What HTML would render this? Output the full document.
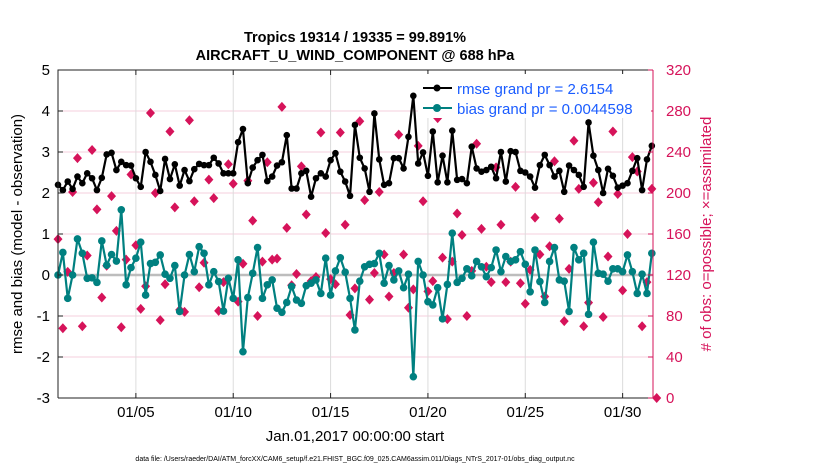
<!DOCTYPE html>
<html><head><meta charset="utf-8"><style>
body{margin:0;background:#fff;font-family:"Liberation Sans",sans-serif}
svg text{font-family:"Liberation Sans",sans-serif}
</style></head><body>
<svg id="chart" width="830" height="470" viewBox="0 0 830 470">
<rect width="830" height="470" fill="#fff"/>
<text x="355" y="42" font-size="14.5" font-weight="bold" text-anchor="middle">Tropics 19314 / 19335 = 99.891%</text>
<text x="355" y="60" font-size="14.5" font-weight="bold" text-anchor="middle">AIRCRAFT_U_WIND_COMPONENT @ 688 hPa</text>
<g id="grid"></g>
<g id="marks"></g>
<g id="axes"></g>
<text transform="translate(22,234) rotate(-90)" font-size="15" text-anchor="middle">rmse and bias (model - observation)</text>
<text transform="translate(711,234) rotate(-90)" font-size="15" text-anchor="middle" fill="#d6135a"># of obs: o=possible; ×=assimilated</text>
<text x="355" y="441" font-size="15" text-anchor="middle">Jan.01,2017 00:00:00 start</text>
<text x="355" y="461" font-size="7" text-anchor="middle">data file: /Users/raeder/DAI/ATM_forcXX/CAM6_setup/f.e21.FHIST_BGC.f09_025.CAM6assim.011/Diags_NTrS_2017-01/obs_diag_output.nc</text>
<g>
<rect x="418" y="74" width="233" height="44" fill="#fff"/>
<line x1="423" y1="88" x2="452" y2="88" stroke="#000" stroke-width="2"/>
<circle cx="437" cy="88" r="3.5" fill="#000"/>
<text x="457" y="94" font-size="15" fill="#1a5cff">rmse grand pr = 2.6154</text>
<line x1="423" y1="108" x2="452" y2="108" stroke="#008080" stroke-width="2"/>
<circle cx="437" cy="108" r="4" fill="#008080"/>
<text x="457" y="114" font-size="15" fill="#1a5cff">bias grand pr = 0.0044598</text>
</g>
</svg>
<script>
const rmse=[2.2,2.07,2.28,2.1,2.4,2.24,2.48,2.36,2.07,2.37,2.94,2.98,2.56,2.76,2.68,2.67,2.36,2.15,3.0,2.76,2.44,2.05,2.83,2.34,2.7,2.18,2.56,2.29,2.58,2.71,2.68,2.68,
2.86,2.72,2.48,2.48,2.48,3.24,3.56,2.24,2.62,2.8,2.93,2.29,2.4,2.67,2.75,3.41,2.11,2.11,2.48,2.54,1.91,2.36,2.48,2.4,2.8,2.97,2.52,2.28,1.93,3.66,
2.86,2.6,2.03,3.94,2.82,2.2,2.24,2.85,2.85,2.6,3.37,4.37,2.72,2.99,2.42,3.5,2.26,2.91,2.26,3.52,2.32,2.34,2.24,3.13,2.6,2.52,2.56,2.64,2.36,3.0,2.28,
3.02,3.0,2.54,2.5,2.4,2.13,2.68,2.93,2.68,2.4,2.54,2.03,2.67,2.56,2.44,2.15,3.72,2.91,2.56,2.0,2.59,2.42,2.13,2.18,2.24,2.54,2.85,2.07,2.82,3.15];
const bias=[0,0.55,-0.57,0,0.88,0.53,-0.08,-0.07,-0.18,0.83,0.24,0.5,0.34,1.59,-0.24,0.18,0.41,0.8,-0.49,0.28,0.31,0.49,0.02,-0.08,0.23,-0.89,0,0.5,0.08,0.69,0.53,-0.24,
0.08,-0.16,-0.88,-0.08,-0.57,0.37,-1.87,-0.55,0.04,0.67,-0.57,-0.24,-0.12,-0.81,-0.91,-0.67,-0.28,-0.61,-0.69,-0.26,-0.2,-0.12,-0.45,0.41,-0.49,0.1,0.42,0.07,-0.57,-1.34,
-0.15,0.2,0.26,0.28,0.53,-0.2,0.23,-0.12,0.1,-0.31,0.02,-2.48,0.33,0,-0.65,-0.73,-0.31,-1.07,-0.23,1.02,-0.18,-0.08,0.15,-0.02,0.33,0.2,-0.04,0.18,0.61,0.08,0.45,
0.33,0.37,0.57,0.26,-0.41,0.61,-0.16,-0.67,0.33,0.67,-0.12,-0.15,-0.89,0.67,0.37,0.53,-0.96,0.8,0.04,0.02,-0.15,0.15,0.15,0.08,0.49,0.08,-0.45,0.02,-0.45,0.53];
const nobs=[155,68,123,201,234,70,139,242,184,98,129,197,163,69,135,218,149,87,109,278,200,76,111,260,186,86,84,271,192,108,132,213,
195,85,113,228,209,94,131,212,173,80,133,230,135,136,284,166,110,121,226,179,114,118,259,161,116,111,259,169,81,107,
270,193,96,122,201,140,99,122,257,140,88,106,246,192,104,114,273,137,77,133,180,159,80,124,248,165,128,113,225,169,113,
133,206,112,92,125,176,140,99,148,231,175,75,126,251,204,70,93,210,191,79,138,260,199,105,160,235,221,70,113,204,0];
const xTickLabels=["01/05","01/10","01/15","01/20","01/25","01/30"];
const xTickDays=[4,9,14,19,24,29];
const leftTicks=[-3,-2,-1,0,1,2,3,4,5];
const rightTicks=[0,40,80,120,160,200,240,280,320];
const STEP=0.25;
const X0=58,X1=653,Y0=70,Y1=398,DMAX=30.56;
const xs=d=>X0+d/DMAX*(X1-X0);
const yl=v=>Y1-(v+3)/8*(Y1-Y0);
const yr=v=>Y1-v/320*(Y1-Y0);
const NS="http://www.w3.org/2000/svg";
function mk(tag,attrs,parent){const e=document.createElementNS(NS,tag);for(const k in attrs)e.setAttribute(k,attrs[k]);parent.appendChild(e);return e;}
const grid=document.getElementById('grid'),marks=document.getElementById('marks'),axes=document.getElementById('axes');
rightTicks.forEach((t,i)=>{if(t>0&&t<320){const l=mk('line',{x1:X0,x2:X1,y1:yr(t),y2:yr(t),stroke:'#f5cfdc','stroke-width':1},grid);

}});
xTickDays.forEach((d,i)=>{const l=mk('line',{x1:xs(d),x2:xs(d),y1:Y0,y2:Y1,stroke:'#dcdcdc','stroke-width':1},grid);

});
const z=mk('line',{x1:X0,x2:X1,y1:yl(0),y2:yl(0),stroke:'#bdbdbd','stroke-width':2.5},grid);


// obs diamonds
nobs.forEach((n,i)=>{const x=xs(i*STEP),y=yr(n);const p=mk('path',{d:`M${x} ${y-5}L${x+4.5} ${y}L${x} ${y+5}L${x-4.5} ${y}Z`,fill:'#d6135a'},marks);

});
function series(vals,color,r,name){
const pts=vals.map((v,i)=>xs(i*STEP)+','+yl(v)).join(' ');
const pl=mk('polyline',{points:pts,fill:'none',stroke:color,'stroke-width':2.2,'stroke-linejoin':'round'},marks);


vals.forEach((v,i)=>{const c=mk('circle',{cx:xs(i*STEP),cy:yl(v),r:r,fill:color},marks);

});}
series(bias,'#008080',3.8,'bias');
series(rmse,'#000',3.3,'rmse');
// axes frame
const f=mk('path',{d:`M${X0} ${Y1}L${X0} ${Y0}L${X1} ${Y0}M${X0} ${Y1}L${X1} ${Y1}`,stroke:'#222',fill:'none','stroke-width':1},axes);


const rs=mk('line',{x1:X1,x2:X1,y1:Y0,y2:Y1,stroke:'#d6135a','stroke-width':1},axes);


leftTicks.forEach(t=>{const y=yl(t);mk('line',{x1:X0,x2:X0+5,y1:y,y2:y,stroke:'#222'},axes);
const tx=mk('text',{x:X0-8,y:y+5,'font-size':15,'text-anchor':'end'},axes);tx.textContent=t;

});
rightTicks.forEach(t=>{const y=yr(t);mk('line',{x1:X1-5,x2:X1,y1:y,y2:y,stroke:'#d6135a'},axes);
const tx=mk('text',{x:X1+13,y:y+5,'font-size':15,fill:'#d6135a'},axes);tx.textContent=t;

});
xTickDays.forEach((d,i)=>{const x=xs(d);mk('line',{x1:x,x2:x,y1:Y1,y2:Y1-5,stroke:'#222'},axes);mk('line',{x1:x,x2:x,y1:Y0,y2:Y0+5,stroke:'#222'},axes);
const tx=mk('text',{x:x,y:Y1+19,'font-size':15,'text-anchor':'middle'},axes);tx.textContent=xTickLabels[i];

});
</script>
</body></html>
